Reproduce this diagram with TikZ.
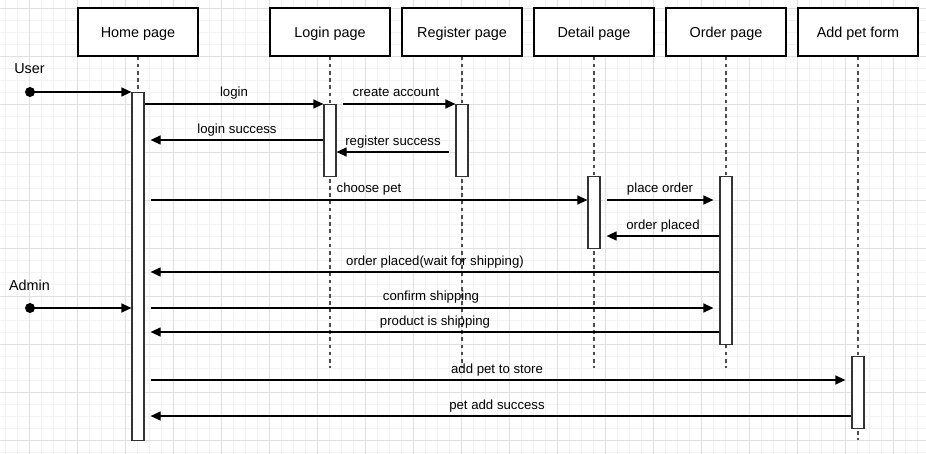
\documentclass[tikz,border=0pt]{standalone}
\usepackage{fontspec}
\setmainfont{Liberation Sans}
\usetikzlibrary{arrows.meta}
\begin{document}
\begin{tikzpicture}[x=1pt,y=-1pt,
  hdr/.style={draw=black,fill=white,line width=1.2pt,minimum width=120pt,minimum height=48pt,inner sep=0pt,text height=12.5pt,text depth=1pt,font=\fontsize{14.4}{16}\selectfont},
  act/.style={draw=black!80,fill=white,line width=1.2pt,minimum width=12pt,inner sep=0pt,anchor=north},
  life/.style={draw=black!70,line width=1.2pt,dash pattern=on 3.6pt off 3.6pt},
  msg/.style={draw=black,line width=1.2pt,-{Triangle[length=10pt,width=9pt]}},
  lbl/.style={anchor=base,inner sep=0pt,font=\fontsize{13.2}{15}\selectfont},
  dot/.style={circle,fill=black,minimum size=10pt,inner sep=0pt},
  minorgrid/.style={draw=black!5,line width=1pt},
  majorgrid/.style={draw=black!12,line width=1pt},
]
\useasboundingbox (0,0) rectangle (926,454);
\fill[white] (0,0) rectangle (926,454);
% grid
\foreach \x in {5.5,17.5,...,925} \draw[minorgrid] (\x,0) -- (\x,454);
\foreach \y in {8.5,20.5,...,454} \draw[minorgrid] (0,\y) -- (926,\y);
\foreach \x in {29.5,77.5,...,925} \draw[majorgrid] (\x,0) -- (\x,454);
\foreach \y in {8.5,56.5,...,454} \draw[majorgrid] (0,\y) -- (926,\y);

% headers
\node[hdr] (hHome) at (138,32) {Home page};
\node[hdr] (hLogin) at (330,32) {Login page};
\node[hdr] (hReg) at (462,32) {Register page};
\node[hdr] (hDetail) at (594,32) {Detail page};
\node[hdr] (hOrder) at (726,32) {Order page};
\node[hdr] (hAdd) at (858,32) {Add pet form};

% lifeline ends
\coordinate (eHome) at (138,440);
\coordinate (eLogin) at (330,368);
\coordinate (eReg) at (462,368);
\coordinate (eDetail) at (594,368);
\coordinate (eOrder) at (726,368);
\coordinate (eAdd) at (858,440);

\draw[life] (hHome.south) -- (eHome);
\draw[life] (hLogin.south) -- (eLogin);
\draw[life] (hReg.south) -- (eReg);
\draw[life] (hDetail.south) -- (eDetail);
\draw[life] (hOrder.south) -- (eOrder);
\draw[life] (hAdd.south) -- (eAdd);

% activation bars
\node[act,minimum height=348pt] (aHome) at (138,92) {};
\node[act,minimum height=72pt] (aLogin) at (330,104) {};
\node[act,minimum height=72pt] (aReg) at (462,104) {};
\node[act,minimum height=72pt] (aDetail) at (594,176) {};
\node[act,minimum height=168pt] (aOrder) at (726,176) {};
\node[act,minimum height=72pt] (aAdd) at (858,356) {};

% actors
\node[dot] (user) at (30,92) {};
\node[lbl,font=\fontsize{14.4}{16}\selectfont] (userLbl) at (29.5,74) {User};
\node[dot] (admin) at (30,308) {};
\node[lbl,font=\fontsize{14.4}{16}\selectfont] (adminLbl) at (29.5,290.5) {Admin};

% message levels
\coordinate (r104) at (0,104);
\coordinate (r140) at (0,140);
\coordinate (r152) at (0,152);
\coordinate (r200) at (0,200);
\coordinate (r236) at (0,236);
\coordinate (r272) at (0,272);
\coordinate (r332) at (0,332);
\coordinate (r380) at (0,380);
\coordinate (r416) at (0,416);

% messages
\draw[msg] (user.center) -- (aHome.west |- user);
\draw[msg] (aHome.east |- r104) -- (aLogin.west |- r104);
\draw[msg,shorten <=6pt] (aLogin.east |- r104) -- (aReg.west |- r104);
\draw[msg,shorten >=6pt] (aLogin.west |- r140) -- (aHome.east |- r140);
\draw[msg,shorten <=6pt] (aReg.west |- r152) -- (aLogin.east |- r152);
\draw[msg,shorten <=6pt] (aHome.east |- r200) -- (aDetail.west |- r200);
\draw[msg,shorten <=6pt,shorten >=6pt] (aDetail.east |- r200) -- (aOrder.west |- r200);
\draw[msg,shorten >=6pt] (aOrder.west |- r236) -- (aDetail.east |- r236);
\draw[msg,shorten >=6pt] (aOrder.west |- r272) -- (aHome.east |- r272);
\draw[msg] (admin.center) -- (aHome.west |- admin);
\draw[msg,shorten <=6pt,shorten >=6pt] (aHome.east |- admin) -- (aOrder.west |- admin);
\draw[msg,shorten >=6pt] (aOrder.west |- r332) -- (aHome.east |- r332);
\draw[msg,shorten <=6pt,shorten >=6pt] (aHome.east |- r380) -- (aAdd.west |- r380);
\draw[msg,shorten >=6pt] (aAdd.west |- r416) -- (aHome.east |- r416);

% labels
\node[lbl] (l1) at (234,97) {login};
\node[lbl] (l2) at (396,97) {create account};
\node[lbl] (l3) at (237,133.5) {login success};
\node[lbl] (l4) at (393,145.5) {register success};
\node[lbl] (l5) at (369,193) {choose pet};
\node[lbl] (l6) at (660,193) {place order};
\node[lbl] (l7) at (663,229.5) {order placed};
\node[lbl] (l8) at (435,265.5) {order placed(wait for shipping)};
\node[lbl] (l9) at (431,301) {confirm shipping};
\node[lbl] (l10) at (435,325.5) {product is shipping};
\node[lbl] (l11) at (497,373) {add pet to store};
\node[lbl] (l12) at (497,409.5) {pet add success};
\end{tikzpicture}
\end{document}
